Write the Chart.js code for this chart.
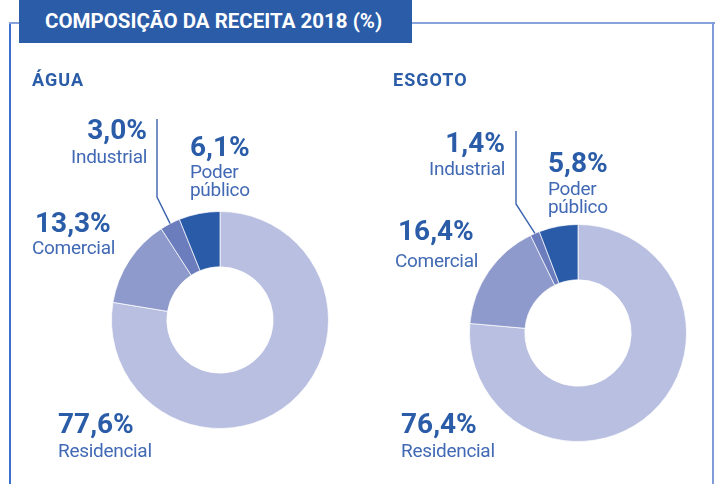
<!DOCTYPE html>
<html lang="pt-BR">
<head>
<meta charset="utf-8">
<title>Composição da receita 2018</title>
<script src="https://cdn.jsdelivr.net/npm/chart.js@4.4.1/dist/chart.umd.min.js"></script>
<style>
    html, body { margin: 0; padding: 0; background: #fff; }
    body { width: 715px; height: 484px; position: relative; overflow: hidden; font-family: Roboto, "Open Sans", sans-serif; }
    .moldura { position: absolute; }
    .titulo-box { position: absolute; left: 19px; top: 0; width: 393px; height: 43px; background: #2a5ca8; }
    .titulo { position: absolute; left: 45px; color: #fff; font-weight: 700; font-size: 20.5px; line-height: 1; white-space: nowrap; }
    .grafico { position: absolute; left: 0; top: 0; width: 715px; height: 484px; }
    .txt { position: absolute; line-height: 1; white-space: nowrap; }
    .secao { color: #2a5ca8; font-weight: 700; font-size: 18px; letter-spacing: 1px; }
    .valor { color: #2a5ca8; font-weight: 700; font-size: 28px; }
    .rotulo { color: #4169b4; font-weight: 400; font-size: 19px; letter-spacing: -0.3px; }
</style>
</head>
<body>

<!-- moldura azul -->
<div class="moldura" style="left:9px; top:22px; width:2px; height:462px; background:#3b70cf;"></div>
<div class="moldura" style="left:9px; top:22px; width:706px; height:2px; background:#86a3dc;"></div>
<div class="moldura" style="left:712px; top:22px; width:2px; height:462px; background:#7f9cd9;"></div>

<div class="titulo-box"></div>
<div class="titulo" id="titulo">COMPOSIÇÃO DA RECEITA 2018 (%)</div>

<div class="grafico"><canvas id="aguaChart"></canvas></div>
<div class="grafico"><canvas id="esgotoChart"></canvas></div>

<div id="textos"></div>

<script>
// Dados
const categorias = ['Residencial', 'Comercial', 'Industrial', 'Poder público'];
const aguaValores = [77.6, 13.3, 3.0, 6.1];
const esgotoValores = [76.4, 16.4, 1.4, 5.8];

const cores = ['#b8bfe0', '#8e9acb', '#6c7dbd', '#2a5ba8'];

// posição dos rótulos (baseline), por categoria
const layoutAgua = {
    secao: { texto: 'ÁGUA', x: 32, base: 86 },
    rotulos: [
        { x: 58, base: 434, baseRot: 457 },
        { x: 35, base: 233, baseRot: 254, xRot: 32 },
        { x: 147, base: 140, baseRot: 163, direita: true },
        { x: 190, base: 157, baseRot: 178 }
    ],
    linha: { x: 157, cotovelo: 197, topo: 119 },
    padding: { left: 111, right: 386, top: 211, bottom: 55 }
};

const layoutEsgoto = {
    secao: { texto: 'ESGOTO', x: 393, base: 86 },
    rotulos: [
        { x: 401, base: 434, baseRot: 457 },
        { x: 398, base: 241, baseRot: 267, xRot: 395 },
        { x: 505, base: 153, baseRot: 175, direita: true },
        { x: 548, base: 173, baseRot: 195 }
    ],
    linha: { x: 516, cotovelo: 204, topo: 131 },
    padding: { left: 469, right: 28, top: 224, bottom: 42 }
};

// Roboto: baseline fica a 0.842 * tamanho do topo da caixa (line-height 1)
function topoPorBase(base, tamanho) {
    return base - 0.842 * tamanho;
}

function formata(v) {
    return v.toFixed(1).replace('.', ',') + '%';
}

function criaTexto(classe, texto, x, base, tamanho, direita) {
    const el = document.createElement('div');
    el.className = 'txt ' + classe;
    el.textContent = texto;
    el.style.top = topoPorBase(base, tamanho) + 'px';
    if (direita) {
        el.style.right = (715 - x) + 'px';
        el.style.textAlign = 'right';
    } else {
        el.style.left = x + 'px';
    }
    document.getElementById('textos').appendChild(el);
}

function montaTextos(valores, layout) {
    criaTexto('secao', layout.secao.texto, layout.secao.x, layout.secao.base, 18);
    valores.forEach((v, i) => {
        const r = layout.rotulos[i];
        criaTexto('valor', formata(v), r.x, r.base, 28, r.direita);
        // "Poder público" em duas linhas
        const partes = categorias[i].split(' ');
        partes.forEach((p, j) => {
            criaTexto('rotulo', p, r.xRot || r.x, r.baseRot + j * 18, 19, r.direita);
        });
    });
}

// linha que liga o rótulo "Industrial" à fatia
const linhaIndustrial = {
    id: 'linhaIndustrial',
    afterDraw(chart, args, opts) {
        const arc = chart.getDatasetMeta(0).data[2];
        if (!arc) return;
        const p = arc.getProps(['x', 'y', 'startAngle', 'endAngle', 'outerRadius'], true);
        const meio = (p.startAngle + p.endAngle) / 2;
        const px = p.x + Math.cos(meio) * p.outerRadius;
        const py = p.y + Math.sin(meio) * p.outerRadius;
        const ctx = chart.ctx;
        ctx.save();
        ctx.strokeStyle = '#3a63ad';
        ctx.lineWidth = 1.4;
        ctx.beginPath();
        ctx.moveTo(px, py);
        ctx.lineTo(opts.x, opts.cotovelo);
        ctx.lineTo(opts.x, opts.topo);
        ctx.stroke();
        ctx.restore();
    }
};

function criaRosca(canvasId, valores, layout) {
    const ctx = document.getElementById(canvasId).getContext('2d');
    return new Chart(ctx, {
        type: 'doughnut',
        data: {
            labels: categorias,
            datasets: [{
                data: valores,
                backgroundColor: cores,
                borderColor: 'rgba(255,255,255,0.7)',
                borderWidth: 1,
                hoverOffset: 0,
                offset: 0
            }]
        },
        options: {
            responsive: true,
            maintainAspectRatio: false,
            animation: false,
            events: [],
            cutout: '49%',
            layout: { padding: layout.padding },
            plugins: {
                legend: { display: false },
                tooltip: { enabled: false },
                linhaIndustrial: layout.linha
            }
        },
        plugins: [linhaIndustrial]
    });
}

document.getElementById('titulo').style.top = topoPorBase(28, 20.5) + 'px';

montaTextos(aguaValores, layoutAgua);
montaTextos(esgotoValores, layoutEsgoto);

const charts = {};
charts.agua = criaRosca('aguaChart', aguaValores, layoutAgua);
charts.esgoto = criaRosca('esgotoChart', esgotoValores, layoutEsgoto);
</script>
</body>
</html>
